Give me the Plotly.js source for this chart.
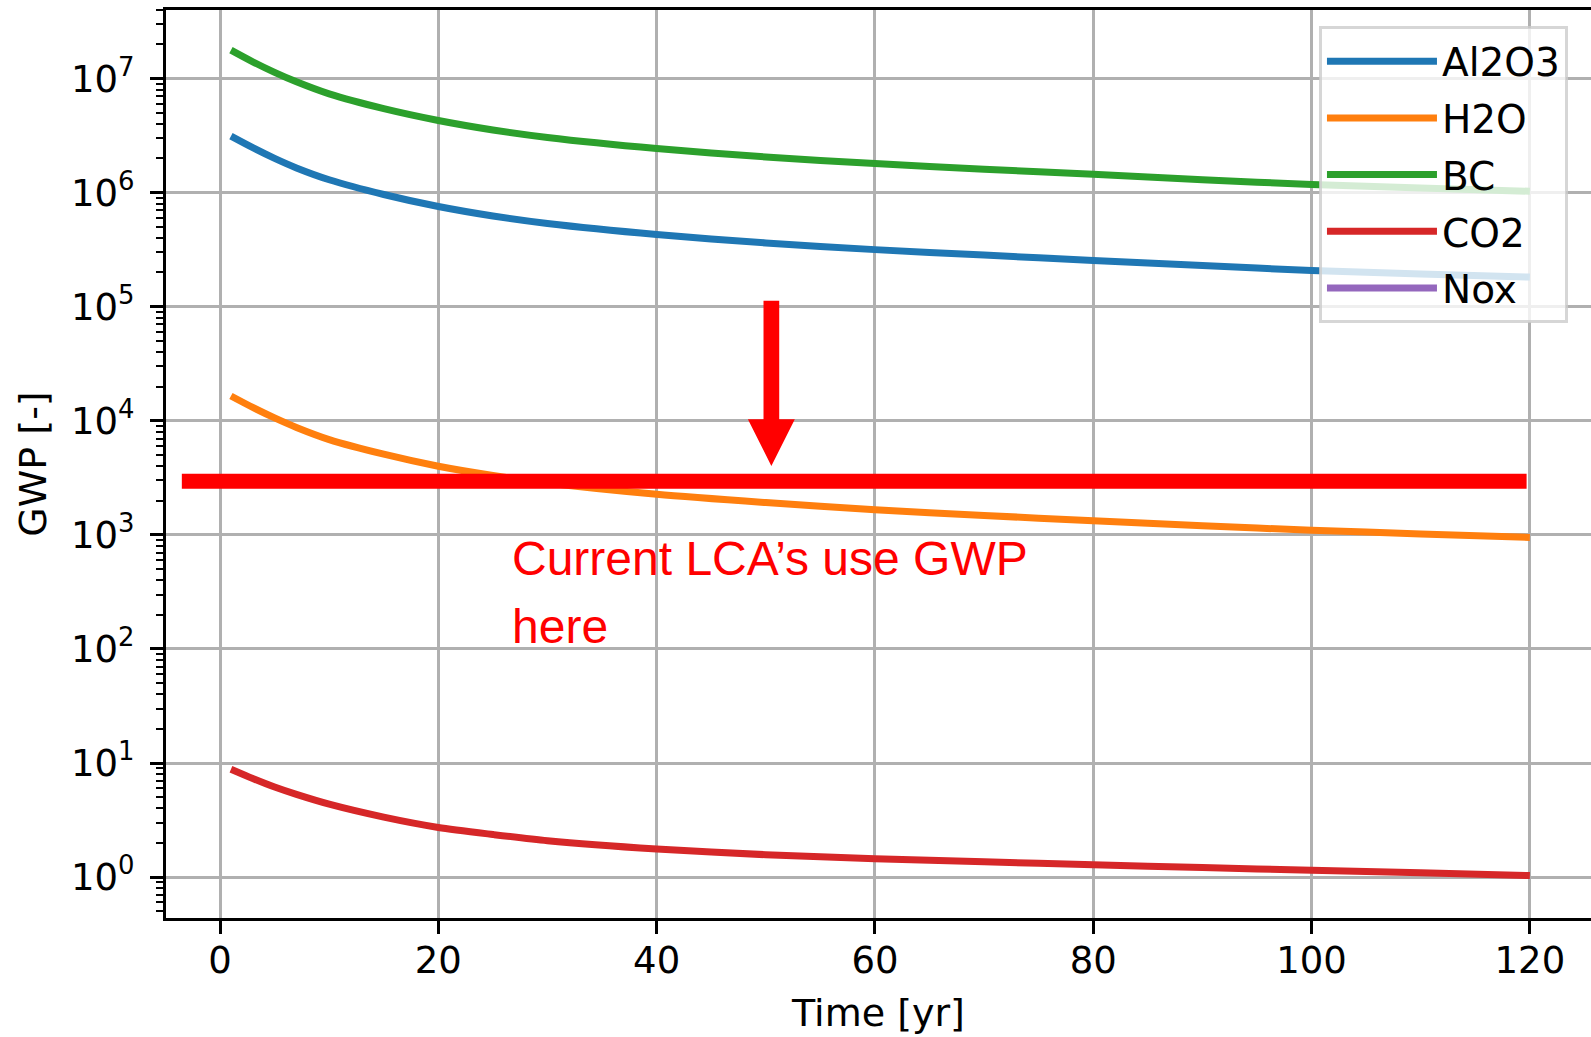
<!DOCTYPE html>
<html>
<head>
<meta charset="utf-8">
<script src="https://cdn.plot.ly/plotly-3.0.1.min.js"></script>
<style>
  html, body { margin: 0; padding: 0; background: #ffffff; overflow: hidden; }
  #chart { width: 1591px; height: 1037px; }
</style>
</head>
<body>
<div id="chart"></div>
<script>
// ---- data ----
const years  = [1, 3, 5, 7, 10, 15, 20, 25, 30, 40, 50, 60, 70, 80, 90, 100, 110, 120];
const al2o3  = [3.13e6, 2.48e6, 2.0e6, 1.65e6, 1.30e6, 9.65e5, 7.57e5, 6.25e5, 5.37e5, 4.3e5, 3.63e5, 3.17e5, 2.84e5, 2.55e5, 2.30e5, 2.08e5, 1.94e5, 1.82e5];
const h2o    = [1.65e4, 1.31e4, 1.06e4, 8.75e3, 6.85e3, 5.1e3, 4.0e3, 3.32e3, 2.85e3, 2.27e3, 1.92e3, 1.66e3, 1.48e3, 1.33e3, 1.2e3, 1.1e3, 1.02e3, 950];
const bc     = [1.78e7, 1.406e7, 1.135e7, 9.38e6, 7.35e6, 5.46e6, 4.3e6, 3.55e6, 3.05e6, 2.44e6, 2.06e6, 1.80e6, 1.61e6, 1.45e6, 1.30e6, 1.18e6, 1.10e6, 1.03e6];
const co2    = [8.8, 7.3, 6.15, 5.3, 4.35, 3.35, 2.72, 2.36, 2.08, 1.76, 1.57, 1.45, 1.36, 1.28, 1.21, 1.15, 1.09, 1.03];
const noxYears = [1, 120];     // Nox shows no visible values on the log scale
const nox      = [null, null];
const seriesNames = ['Al2O3', 'H2O', 'BC', 'CO2', 'Nox'];

const currentGwp = 2950;               // level marked by the red bar
const currentGwpSpan = [-3.5, 119.7];  // x extent of the red bar
const noteLines = ['Current LCA\u2019s use GWP', 'here'];

const xTickVals = [0, 20, 40, 60, 80, 100, 120];
const yTickVals = [1, 10, 100, 1e3, 1e4, 1e5, 1e6, 1e7];
const yTickText = ['10<sup>0</sup>', '10<sup>1</sup>', '10<sup>2</sup>', '10<sup>3</sup>',
                   '10<sup>4</sup>', '10<sup>5</sup>', '10<sup>6</sup>', '10<sup>7</sup>'];

// ---- styling ----
const colors = ['#1f77b4', '#ff7f0e', '#2ca02c', '#d62728', '#9467bd'];
const LW = 7;
const FONT = 'DejaVu Sans, sans-serif';
const NOTE_FONT = 'Liberation Sans, Arial, sans-serif';

const seriesY = [al2o3, h2o, bc, co2, nox];
const traces = seriesNames.map((name, i) => ({
  type: 'scatter', mode: 'lines', name: name, legendgroup: name,
  x: name === 'Nox' ? noxYears : years,
  y: seriesY[i],
  line: { color: colors[i], width: LW, shape: 'spline', smoothing: 0.7 },
  hoverinfo: 'x+y+name'
}));

traces.push({
  type: 'scatter', mode: 'lines', showlegend: false, hoverinfo: 'skip',
  x: currentGwpSpan, y: [currentGwp, currentGwp],
  line: { color: '#ff0000', width: 15 }
});

// arrow (x in data units, y in paper units)
const ax0 = 50.51, shaftHalf = 0.72, headHalf = 2.15;
const yTop = 0.6798, yBase = 0.5492, yTip = 0.4978;
const arrowPath = `M ${ax0 - shaftHalf},${yTop} L ${ax0 + shaftHalf},${yTop} L ${ax0 + shaftHalf},${yBase} ` +
                  `L ${ax0 + headHalf},${yBase} L ${ax0},${yTip} L ${ax0 - headHalf},${yBase} ` +
                  `L ${ax0 - shaftHalf},${yBase} Z`;

const layout = {
  width: 1591, height: 1037,
  margin: { l: 166, r: 0, t: 10, b: 119, pad: 0 },
  paper_bgcolor: '#ffffff', plot_bgcolor: '#ffffff',
  font: { family: FONT, size: 37, color: '#000000' },
  showlegend: true,
  legend: {
    x: 0.8091, xanchor: 'left', y: 0.982, yanchor: 'top',
    bgcolor: 'rgba(255,255,255,0.8)', bordercolor: 'rgba(204,204,204,0.8)', borderwidth: 3,
    font: { family: FONT, size: 39, color: '#000000' },
    itemwidth: 110, tracegroupgap: 3, traceorder: 'grouped'
  },
  xaxis: {
    type: 'linear', range: [-4.95, 125.6],
    tickmode: 'array', tickvals: xTickVals,
    ticks: 'outside', ticklen: 13, tickwidth: 3, tickcolor: '#000000',
    ticklabelstandoff: -5,
    showline: true, linecolor: '#000000', linewidth: 3, mirror: true,
    showgrid: true, gridcolor: '#b0b0b0', gridwidth: 2.7, zeroline: false,
    tickfont: { family: FONT, size: 37, color: '#000000' },
    title: { text: 'Time [yr]', font: { family: FONT, size: 38, color: '#000000' }, standoff: 18 }
  },
  yaxis: {
    type: 'log', range: [-0.359, 7.602],
    tickmode: 'array', tickvals: yTickVals, ticktext: yTickText,
    ticks: 'outside', ticklen: 13, tickwidth: 3, tickcolor: '#000000',
    ticklabelstandoff: 8,
    minor: { dtick: 'D1', ticks: 'outside', ticklen: 7, tickwidth: 2, tickcolor: '#000000', showgrid: false },
    showline: true, linecolor: '#000000', linewidth: 3, mirror: false,
    showgrid: true, gridcolor: '#b0b0b0', gridwidth: 2.7, zeroline: false,
    tickfont: { family: FONT, size: 37, color: '#000000' },
    title: { text: 'GWP [-]', font: { family: FONT, size: 38, color: '#000000' }, standoff: 13 }
  },
  shapes: [
    { type: 'path', xref: 'x', yref: 'paper', path: arrowPath,
      fillcolor: '#ff0000', line: { width: 0 }, layer: 'above' }
  ],
  annotations: [
    { xref: 'x', yref: 'paper', x: 26.6, y: 0.3954, xanchor: 'left', yanchor: 'middle',
      text: noteLines[0], showarrow: false,
      font: { family: NOTE_FONT, size: 48, color: '#ff0000' } },
    { xref: 'x', yref: 'paper', x: 26.6, y: 0.3215, xanchor: 'left', yanchor: 'middle',
      text: noteLines[1], showarrow: false,
      font: { family: NOTE_FONT, size: 48, color: '#ff0000' } }
  ]
};

Plotly.newPlot('chart', traces, layout, { displayModeBar: false, responsive: false });
</script>
</body>
</html>
